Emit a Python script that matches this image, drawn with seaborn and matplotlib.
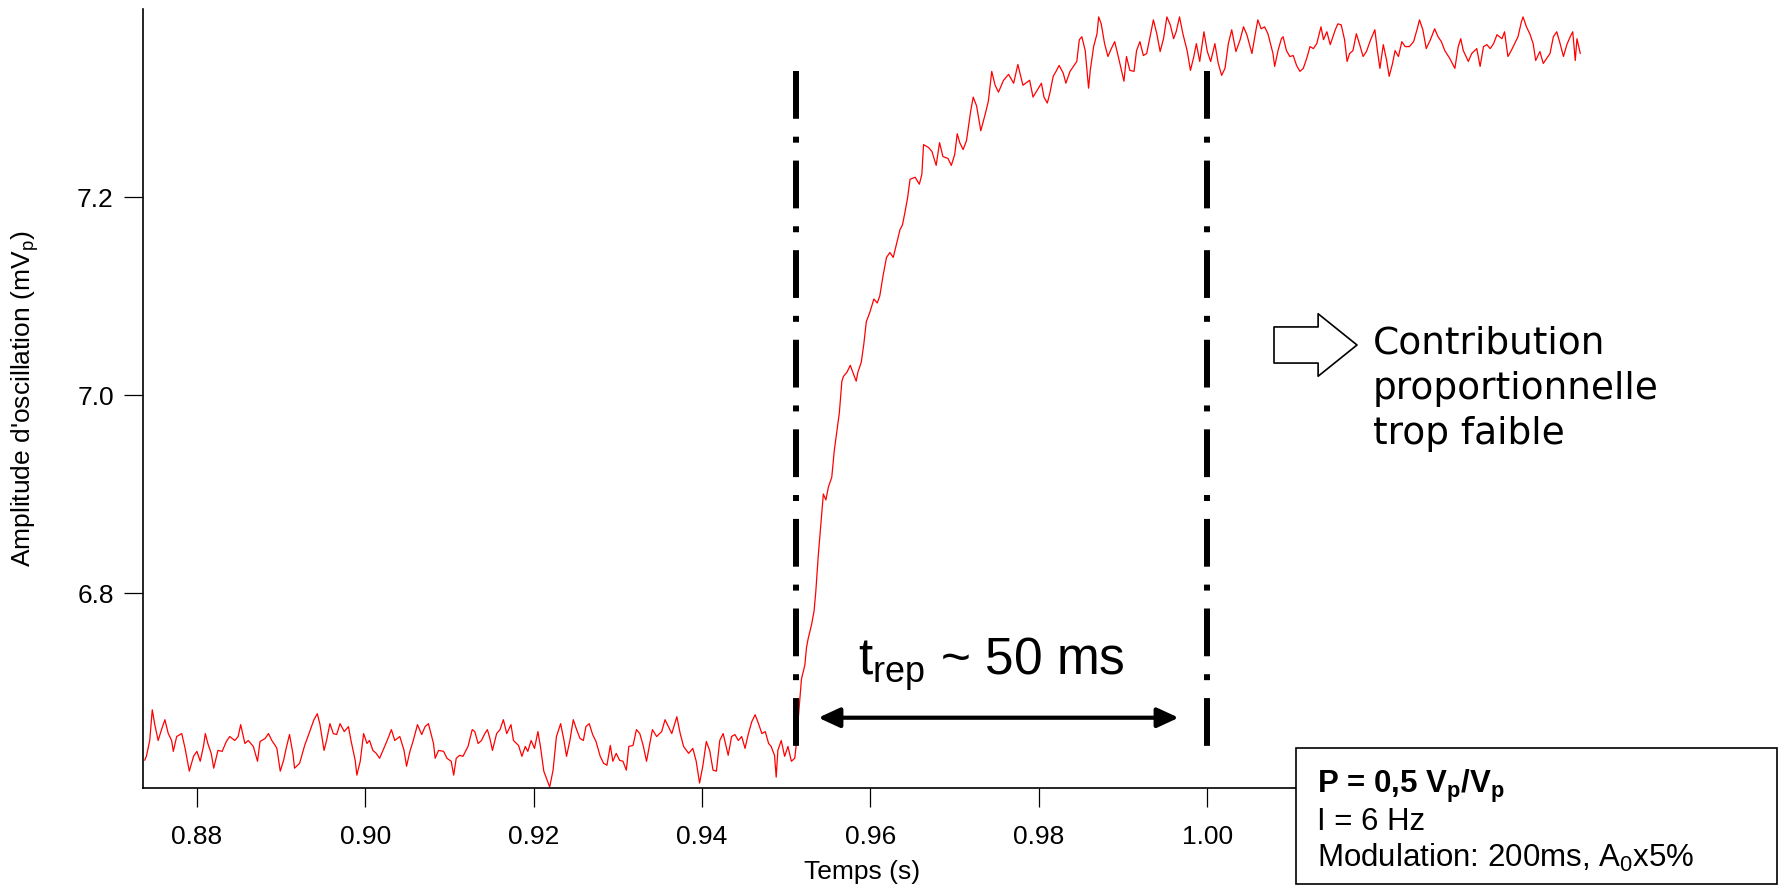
import matplotlib
matplotlib.use("Agg")
import matplotlib.pyplot as plt
import seaborn as sns
from matplotlib.patches import Rectangle

# trace: time (s) and oscillation amplitude (mV_p)
time_s = [
    0.8738, 0.8740, 0.8744, 0.8747, 0.8750, 0.8754, 0.8758, 0.8762, 0.8766, 0.8770,
    0.8772, 0.8776, 0.8782, 0.8786, 0.8791, 0.8796, 0.8800, 0.8804, 0.8808, 0.8810,
    0.8813, 0.8817, 0.8820, 0.8825, 0.8830, 0.8835, 0.8839, 0.8845, 0.8849, 0.8852,
    0.8857, 0.8861, 0.8867, 0.8872, 0.8875, 0.8881, 0.8885, 0.8889, 0.8893, 0.8895,
    0.8899, 0.8903, 0.8906, 0.8910, 0.8914, 0.8916, 0.8922, 0.8928, 0.8934, 0.8939,
    0.8943, 0.8946, 0.8951, 0.8954, 0.8958, 0.8962, 0.8966, 0.8970, 0.8975, 0.8980,
    0.8983, 0.8988, 0.8990, 0.8994, 0.8998, 0.9002, 0.9005, 0.9009, 0.9013, 0.9017,
    0.9022, 0.9026, 0.9031, 0.9035, 0.9041, 0.9046, 0.9049, 0.9053, 0.9057, 0.9062,
    0.9067, 0.9071, 0.9075, 0.9081, 0.9083, 0.9087, 0.9093, 0.9097, 0.9102, 0.9105,
    0.9108, 0.9112, 0.9116, 0.9122,
    0.9127, 0.9130, 0.9134, 0.9138, 0.9142, 0.9145, 0.9148, 0.9151, 0.9156, 0.9160,
    0.9164, 0.9168, 0.9173, 0.9176, 0.9182, 0.9186, 0.9190, 0.9193, 0.9197, 0.9201,
    0.9205, 0.9208, 0.9212, 0.9216, 0.9219, 0.9223, 0.9227, 0.9232, 0.9236, 0.9239,
    0.9243, 0.9247, 0.9251, 0.9255, 0.9259, 0.9262, 0.9266, 0.9270, 0.9274, 0.9279,
    0.9283, 0.9287, 0.9291, 0.9294, 0.9298, 0.9302, 0.9306, 0.9310, 0.9313, 0.9318,
    0.9322, 0.9326, 0.9330, 0.9334, 0.9338, 0.9341, 0.9346, 0.9352, 0.9356, 0.9360,
    0.9364, 0.9370, 0.9374, 0.9378, 0.9384, 0.9389, 0.9393, 0.9397, 0.9401, 0.9405,
    0.9409, 0.9413, 0.9417, 0.9421, 0.9425, 0.9431, 0.9435, 0.9439, 0.9443, 0.9447,
    0.9451, 0.9455, 0.9459, 0.9463, 0.9467, 0.9471, 0.9475, 0.9479, 0.9482, 0.9486,
    0.9488, 0.9490, 0.9494, 0.9498, 0.9502, 0.9506, 0.9510, 0.9512,
    0.9514, 0.9518, 0.9522, 0.9524, 0.9526, 0.9530, 0.9533, 0.9535, 0.9538, 0.9542,
    0.9544, 0.9547, 0.9550, 0.9554, 0.9557, 0.9560, 0.9563, 0.9566, 0.9568, 0.9572,
    0.9576, 0.9579, 0.9583, 0.9585, 0.9589, 0.9592, 0.9595, 0.9599, 0.9604, 0.9608,
    0.9611, 0.9615, 0.9619, 0.9623, 0.9627, 0.9631, 0.9635, 0.9638, 0.9641, 0.9644,
    0.9647, 0.9653, 0.9658, 0.9661, 0.9663, 0.9669, 0.9673, 0.9678, 0.9682, 0.9686,
    0.9692, 0.9696, 0.9700, 0.9703, 0.9706, 0.9710, 0.9714, 0.9719, 0.9722, 0.9726,
    0.9731, 0.9736, 0.9740, 0.9744, 0.9748, 0.9752, 0.9758, 0.9764, 0.9770, 0.9775,
    0.9781,
    0.9789, 0.9793, 0.9798, 0.9803, 0.9806, 0.9810, 0.9813, 0.9817, 0.9821, 0.9824,
    0.9829, 0.9832, 0.9837, 0.9841, 0.9845, 0.9848, 0.9851, 0.9855, 0.9859, 0.9861,
    0.9865, 0.9869, 0.9871, 0.9874, 0.9878, 0.9882, 0.9886, 0.9890, 0.9894, 0.9898,
    0.9901, 0.9904, 0.9908, 0.9913, 0.9916, 0.9920, 0.9924, 0.9928, 0.9932, 0.9936,
    0.9940, 0.9944, 0.9948, 0.9952, 0.9956, 0.9960, 0.9963, 0.9967, 0.9971, 0.9976,
    0.9980, 0.9984, 0.9987, 0.9991, 0.9996, 1.0000, 1.0004, 1.0009, 1.0013, 1.0017,
    1.0021, 1.0025, 1.0029, 1.0034, 1.0039, 1.0043, 1.0047, 1.0053, 1.0057, 1.0060,
    1.0064, 1.0068, 1.0072,
    1.0078, 1.0080, 1.0084, 1.0088, 1.0090, 1.0094, 1.0098, 1.0102, 1.0106, 1.0110,
    1.0114, 1.0118, 1.0122, 1.0126, 1.0130, 1.0135, 1.0138, 1.0142, 1.0146, 1.0152,
    1.0155, 1.0159, 1.0163, 1.0166, 1.0169, 1.0173, 1.0177, 1.0181, 1.0185, 1.0189,
    1.0194, 1.0199, 1.0202, 1.0205, 1.0209, 1.0213, 1.0216, 1.0220, 1.0223, 1.0227,
    1.0231, 1.0235, 1.0240, 1.0245, 1.0249, 1.0252, 1.0256, 1.0260, 1.0265, 1.0270,
    1.0274, 1.0278, 1.0282, 1.0288, 1.0294, 1.0298, 1.0301, 1.0304, 1.0310, 1.0314,
    1.0320, 1.0324, 1.0328, 1.0332, 1.0336, 1.0340, 1.0344, 1.0350, 1.0353, 1.0357,
    1.0361, 1.0365, 1.0369, 1.0373, 1.0375, 1.0379, 1.0383, 1.0387, 1.0390, 1.0395,
    1.0399, 1.0403, 1.0407, 1.0411, 1.0415, 1.0419, 1.0423, 1.0427, 1.0431, 1.0434,
    1.0437, 1.0439, 1.0443,
]
amplitude_mv = [
    6.631, 6.635, 6.651, 6.682, 6.667, 6.651, 6.662, 6.672, 6.658, 6.651,
    6.640, 6.655, 6.658, 6.643, 6.620, 6.635, 6.640, 6.630, 6.646, 6.658,
    6.648, 6.638, 6.623, 6.641, 6.640, 6.650, 6.655, 6.651, 6.655, 6.667,
    6.648, 6.651, 6.645, 6.630, 6.650, 6.653, 6.658, 6.651, 6.646, 6.643,
    6.620, 6.631, 6.643, 6.657, 6.638, 6.623, 6.628, 6.646, 6.660, 6.672,
    6.678, 6.668, 6.641, 6.651, 6.668, 6.658, 6.657, 6.668, 6.660, 6.665,
    6.651, 6.631, 6.616, 6.630, 6.658, 6.648, 6.651, 6.641, 6.638, 6.633,
    6.643, 6.651, 6.662, 6.651, 6.655, 6.641, 6.625, 6.640, 6.651, 6.667,
    6.657, 6.665, 6.668, 6.648, 6.633, 6.641, 6.640, 6.633, 6.630, 6.616,
    6.633, 6.636, 6.635, 6.645,
    6.662, 6.660, 6.648, 6.651, 6.658, 6.662, 6.653, 6.641, 6.658, 6.662,
    6.672, 6.658, 6.667, 6.651, 6.646, 6.635, 6.645, 6.640, 6.651, 6.643,
    6.660, 6.645, 6.620, 6.611, 6.604, 6.621, 6.655, 6.668, 6.651, 6.635,
    6.651, 6.672, 6.662, 6.653, 6.651, 6.665, 6.668, 6.657, 6.650, 6.635,
    6.628, 6.626, 6.646, 6.630, 6.638, 6.631, 6.630, 6.621, 6.645, 6.646,
    6.662, 6.658, 6.646, 6.630, 6.648, 6.662, 6.655, 6.660, 6.672, 6.665,
    6.658, 6.675, 6.658, 6.645, 6.638, 6.643, 6.630, 6.608, 6.626, 6.650,
    6.641, 6.621, 6.620, 6.651, 6.658, 6.636, 6.655, 6.657, 6.651, 6.655,
    6.643, 6.658, 6.670, 6.677, 6.668, 6.658, 6.660, 6.648, 6.645, 6.636,
    6.614, 6.641, 6.651, 6.635, 6.645, 6.630, 6.633, 6.648,
    6.671, 6.713, 6.727, 6.745, 6.754, 6.768, 6.782, 6.801, 6.838, 6.880,
    6.900, 6.894, 6.907, 6.917, 6.944, 6.963, 6.982, 7.014, 7.019, 7.023,
    7.030, 7.023, 7.014, 7.023, 7.033, 7.051, 7.074, 7.083, 7.097, 7.093,
    7.100, 7.121, 7.139, 7.144, 7.139, 7.153, 7.167, 7.172, 7.185, 7.199,
    7.218, 7.220, 7.213, 7.223, 7.253, 7.250, 7.246, 7.232, 7.255, 7.241,
    7.239, 7.232, 7.243, 7.264, 7.255, 7.248, 7.257, 7.287, 7.301, 7.292,
    7.267, 7.283, 7.297, 7.327, 7.313, 7.306, 7.318, 7.324, 7.315, 7.334,
    7.313,
    7.318, 7.301, 7.308, 7.315, 7.301, 7.295, 7.305, 7.322, 7.328, 7.333,
    7.325, 7.315, 7.327, 7.332, 7.337, 7.359, 7.362, 7.348, 7.310, 7.328,
    7.352, 7.365, 7.382, 7.375, 7.355, 7.342, 7.350, 7.357, 7.343, 7.328,
    7.317, 7.342, 7.328, 7.327, 7.348, 7.357, 7.343, 7.345, 7.362, 7.379,
    7.365, 7.347, 7.360, 7.382, 7.374, 7.360, 7.367, 7.382, 7.365, 7.348,
    7.328, 7.342, 7.355, 7.337, 7.367, 7.347, 7.337, 7.355, 7.335, 7.323,
    7.330, 7.355, 7.369, 7.347, 7.359, 7.372, 7.364, 7.345, 7.365, 7.379,
    7.370, 7.372, 7.365,
    7.345, 7.332, 7.348, 7.360, 7.362, 7.348, 7.342, 7.343, 7.333, 7.327,
    7.330, 7.340, 7.352, 7.350, 7.355, 7.372, 7.359, 7.367, 7.354, 7.369,
    7.375, 7.374, 7.359, 7.337, 7.345, 7.348, 7.365, 7.354, 7.342, 7.347,
    7.359, 7.369, 7.348, 7.330, 7.354, 7.338, 7.322, 7.335, 7.348, 7.342,
    7.357, 7.352, 7.352, 7.357, 7.369, 7.379, 7.369, 7.350, 7.359, 7.370,
    7.362, 7.357, 7.348, 7.340, 7.330, 7.352, 7.360, 7.348, 7.337, 7.345,
    7.350, 7.332, 7.352, 7.354, 7.350, 7.355, 7.364, 7.360, 7.367, 7.342,
    7.348, 7.355, 7.362, 7.377, 7.382, 7.372, 7.365, 7.355, 7.338, 7.347,
    7.335, 7.340, 7.345, 7.362, 7.367, 7.355, 7.342, 7.354, 7.362, 7.367,
    7.338, 7.360, 7.345,
]

# annotations
marker_t = [0.9511, 1.0000]          # dash-dot markers
marker_top, marker_bottom = 7.327, 6.642
span_t = [0.9538, 0.9966]            # t_rep double arrow
span_y = 6.674
x_ticks = [0.88, 0.90, 0.92, 0.94, 0.96, 0.98, 1.00]   # later ticks sit under the box
y_ticks = [6.8, 7.0, 7.2]
note_lines = ["Contribution", "proportionnelle", "trop faible"]
box_lines = [r"P = 0,5 V$_p$/V$_p$", "I = 6 Hz", r"Modulation: 200ms, A$_0$x5%"]

sns.set_theme(style="ticks")
plt.rcParams['font.family'] = ['Liberation Sans', 'DejaVu Sans']
plt.rcParams['mathtext.default'] = 'regular'
plt.rcParams['text.color'] = 'black'
plt.rcParams['axes.labelcolor'] = 'black'

W, H = 1786, 886
def fx(x):
    return x / W
def fy(y):
    return 1 - y / H

fig = plt.figure(figsize=(W / 100, H / 100), dpi=100)
ax = fig.add_axes([fx(143), fy(788), (1582 - 143) / W, (788 - 9) / H])

sns.lineplot(x=time_s, y=amplitude_mv, color='#ff0000', lw=0.9, estimator=None, ax=ax)

ax.set_xlim(0.8736, 1.0445)
ax.set_ylim(6.603, 7.390)
ax.set_xticks(x_ticks)
ax.set_xticklabels([f"{v:.2f}" for v in x_ticks])
ax.set_yticks(y_ticks)
ax.set_yticklabels([f"{v:.1f}" for v in y_ticks])
ax.tick_params(direction='out', length=14, width=0.9, colors='black', labelsize=19)
ax.tick_params(axis='x', pad=13)
ax.tick_params(axis='y', pad=7)
sns.despine(ax=ax)
for s in ['left', 'bottom']:
    ax.spines[s].set_linewidth(1.2)
    ax.spines[s].set_color('black')

ax.set_xlabel("Temps (s)", fontsize=19)
ax.xaxis.set_label_coords(0.5, -0.092)
ax.set_ylabel("Amplitude d'oscillation (mV$_p$)", fontsize=19)
ax.yaxis.set_label_coords(-0.071, 0.5)

# dash-dot markers of the response time
for t in marker_t:
    ax.plot([t, t], [marker_top, marker_bottom], color='black', lw=4.3,
            linestyle=(0, (8, 3, 1, 3)), dash_capstyle='butt')

ax.annotate("", xy=(span_t[1], span_y), xytext=(span_t[0], span_y),
            arrowprops=dict(arrowstyle='<|-|>,head_length=0.65,head_width=0.3',
                            lw=3, color='black', mutation_scale=20,
                            shrinkA=0, shrinkB=0))
ax.text((span_t[0] + span_t[1]) / 2 - 0.0008, 6.718, r"t$_{rep}$ ~ 50 ms",
        fontsize=37, ha='center', va='baseline')

# hollow arrow + note
ax.annotate("", xy=(1357, H - 345), xytext=(1274, H - 345),
            xycoords='figure pixels', textcoords='figure pixels',
            arrowprops=dict(arrowstyle='simple,head_length=2.8,head_width=4.5,tail_width=2.6',
                            mutation_scale=10, fc='white', ec='black', lw=1.2,
                            shrinkA=0, shrinkB=0))
for i, line in enumerate(note_lines):
    fig.text(fx(1373), fy(354 + 45 * i), line, fontsize=27,
             family='DejaVu Sans', va='baseline', ha='left')

# parameter box
box = Rectangle((fx(1296), fy(884)), (1777 - 1296) / W, (884 - 748) / H,
                transform=fig.transFigure, facecolor='white', edgecolor='black',
                lw=1.2, zorder=10)
fig.add_artist(box)
for i, line in enumerate(box_lines):
    fig.text(fx(1317), fy(793 + 37 * i), line, fontsize=22.5, va='baseline', ha='left',
             fontweight='bold' if i == 0 else 'normal', zorder=11)

fig.savefig("out.png", dpi=100)
